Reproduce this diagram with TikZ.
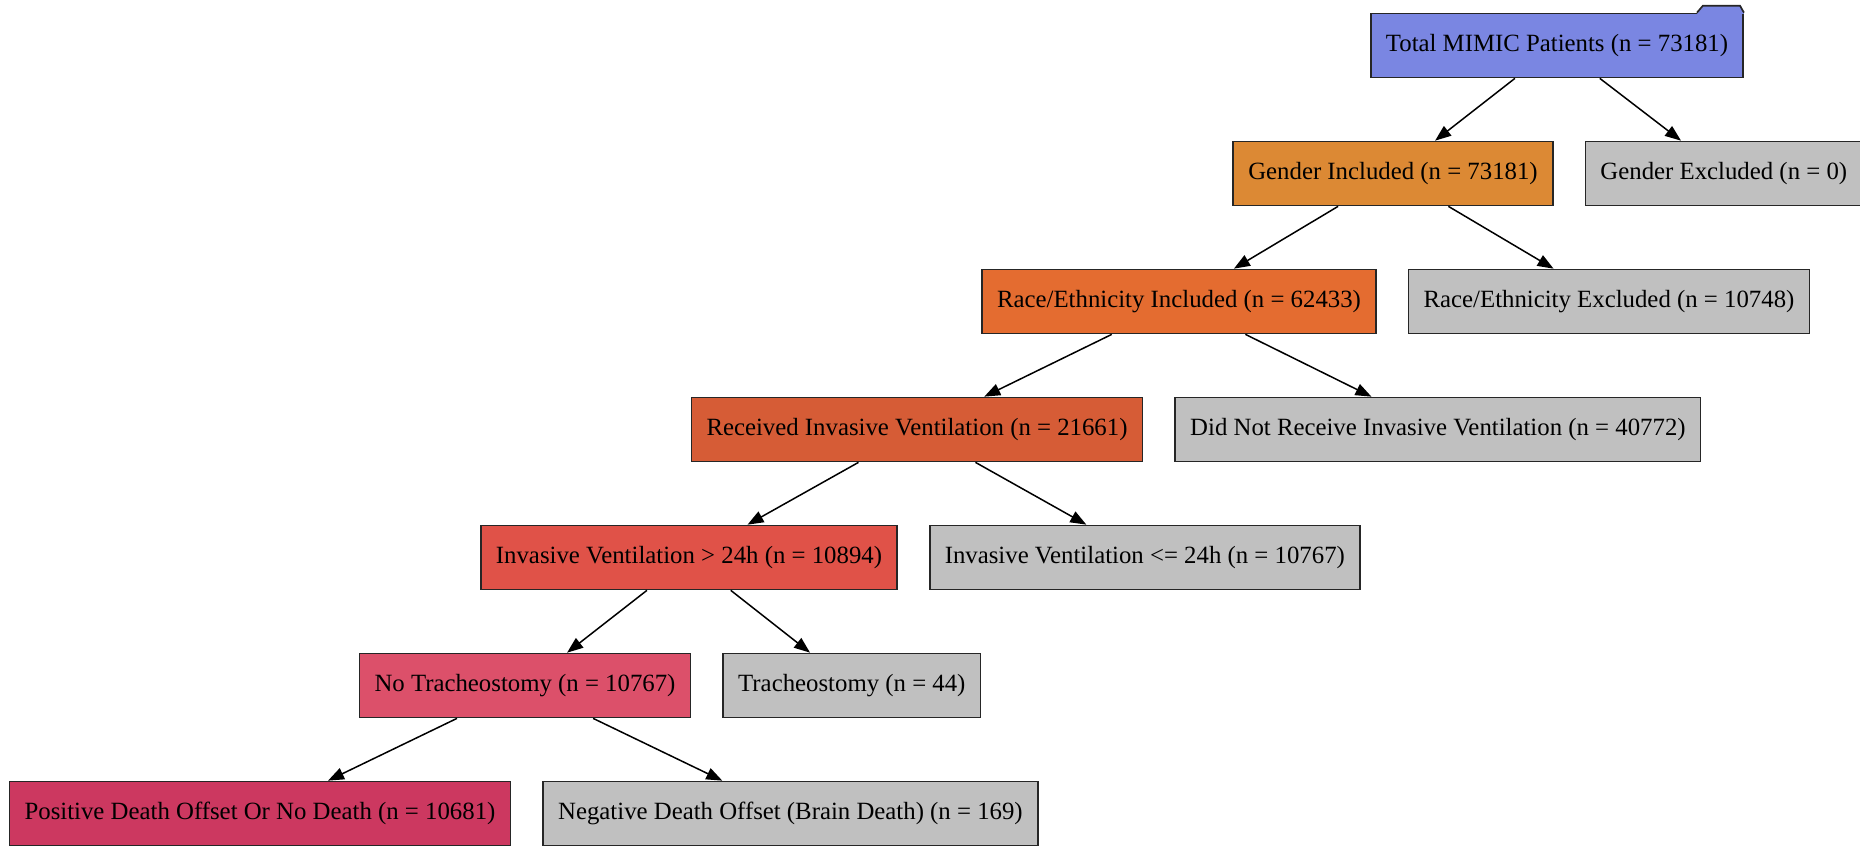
\documentclass[tikz,border=0pt]{standalone}
\usepackage{fontspec}
\setmainfont{Liberation Serif}
\usetikzlibrary{arrows.meta,positioning}
\definecolor{total}{RGB}{122,134,226}
\definecolor{gender}{RGB}{220,137,52}
\definecolor{race}{RGB}{228,108,48}
\definecolor{vent}{RGB}{214,92,54}
\definecolor{longvent}{RGB}{224,82,72}
\definecolor{notrach}{RGB}{220,80,106}
\definecolor{alive}{RGB}{204,56,96}
\definecolor{excl}{RGB}{192,192,192}
\begin{document}
\begin{tikzpicture}[x=0.5pt,y=-0.5pt,>={Triangle[length=8pt,width=6pt]},node distance=15.5pt,
 box/.style={draw=black!85,line width=0.85pt,minimum height=32pt,inner xsep=7.5pt,font=\fontsize{12.4}{14}\selectfont},
 exclbox/.style={box,fill=excl}]
\useasboundingbox (0,0) rectangle (1860,848);
\node[box,fill=total] (tot) at (1557,45.5) {Total MIMIC Patients (n = 73181)};
\fill[total] ([xshift=-23.5pt,yshift=-0.6pt]tot.north east) -- ++(3.5pt,4.1pt) -- ++(18.5pt,0) -- ([yshift=-0.6pt]tot.north east) -- cycle;
\draw[draw=black!85,line width=0.85pt] ([xshift=-23.5pt]tot.north east) -- ++(3pt,3.5pt) -- ++(18.5pt,0) -- (tot.north east);
\node[box,fill=gender] (ginc) at (1393,173.5) {Gender Included (n = 73181)};
\node[exclbox,right=of ginc] (gexc) {Gender Excluded (n = 0)};
\node[box,fill=race] (rinc) at (1179,301.5) {Race/Ethnicity Included (n = 62433)};
\node[exclbox,right=of rinc] (rexc) {Race/Ethnicity Excluded (n = 10748)};
\node[box,fill=vent] (vent) at (917,429.5) {Received Invasive Ventilation (n = 21661)};
\node[exclbox,right=of vent] (novent) {Did Not Receive Invasive Ventilation (n = 40772)};
\node[box,fill=longvent] (long) at (689,557.5) {Invasive Ventilation > 24h (n = 10894)};
\node[exclbox,right=of long] (short) {Invasive Ventilation <= 24h (n = 10767)};
\node[box,fill=notrach] (notr) at (525,685.5) {No Tracheostomy (n = 10767)};
\node[exclbox,right=of notr] (trach) {Tracheostomy (n = 44)};
\node[box,fill=alive] (pos) at (260,813.5) {Positive Death Offset Or No Death (n = 10681)};
\node[exclbox,right=of pos] (neg) {Negative Death Offset (Brain Death) (n = 169)};
\draw[->,line width=0.75pt] (tot) -- (ginc);
\draw[->,line width=0.75pt] (tot) -- (gexc);
\draw[->,line width=0.75pt] (ginc) -- (rinc);
\draw[->,line width=0.75pt] (ginc) -- (rexc);
\draw[->,line width=0.75pt] (rinc) -- (vent);
\draw[->,line width=0.75pt] (rinc) -- (novent);
\draw[->,line width=0.75pt] (vent) -- (long);
\draw[->,line width=0.75pt] (vent) -- (short);
\draw[->,line width=0.75pt] (long) -- (notr);
\draw[->,line width=0.75pt] (long) -- (trach);
\draw[->,line width=0.75pt] (notr) -- (pos);
\draw[->,line width=0.75pt] (notr) -- (neg);
\end{tikzpicture}
\end{document}
